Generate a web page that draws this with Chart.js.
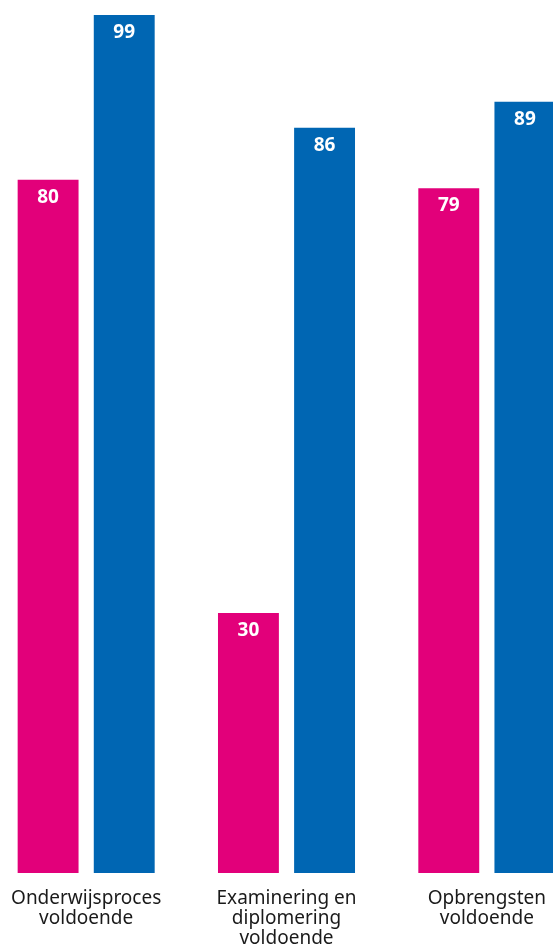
<!DOCTYPE html>
<html>
<head>
<meta charset="utf-8">
<script src="https://cdn.jsdelivr.net/npm/chart.js@4/dist/chart.umd.min.js"></script>
<style>
  html, body { margin: 0; padding: 0; background: #fff; overflow: hidden; width: 553px; height: 944px; }
  #wrap { position: absolute; left: -14px; top: 0; width: 601px; height: 944px; }
</style>
</head>
<body>
<div id="wrap"><canvas id="c" width="601" height="944"></canvas></div>
<script>
const categories = [
  ["Onderwijsproces", "voldoende"],
  ["Examinering en", "diplomering", "voldoende"],
  ["Opbrengsten", "voldoende"]
];
const seriesA = [80, 30, 79];
const seriesB = [99, 86, 89];
const seriesNames = ["Reeks 1", "Reeks 2"];

const valueLabels = {
  id: 'valueLabels',
  afterDatasetsDraw(chart) {
    const ctx = chart.ctx;
    ctx.save();
    ctx.fillStyle = '#ffffff';
    ctx.font = 'bold 19px "Noto Sans", "Open Sans", sans-serif';
    ctx.textAlign = 'center';
    ctx.textBaseline = 'alphabetic';
    chart.data.datasets.forEach((ds, i) => {
      chart.getDatasetMeta(i).data.forEach((bar, j) => {
        ctx.fillText(String(ds.data[j]), bar.x, bar.y + 23);
      });
    });
    ctx.restore();
  }
};

new Chart(document.getElementById('c'), {
  type: 'bar',
  data: {
    labels: categories,
    datasets: [
      { label: seriesNames[0], data: seriesA, backgroundColor: '#E2007A' },
      { label: seriesNames[1], data: seriesB, backgroundColor: '#0066B3' }
    ]
  },
  options: {
    responsive: false,
    animation: false,
    devicePixelRatio: 1,
    categoryPercentage: 0.76,
    barPercentage: 0.80,
    layout: { padding: { top: 15, bottom: 0, left: 0, right: 0 } },
    plugins: { legend: { display: false }, tooltip: { enabled: false } },
    scales: {
      x: {
        grid: { display: false },
        border: { display: false },
        ticks: {
          color: '#1a1a1a',
          font: { family: '"Noto Sans", "Open Sans", sans-serif', size: 19, lineHeight: '20px' },
          padding: 8,
          maxRotation: 0,
          autoSkip: false
        },
        afterFit(scale) { scale.height = 71; }
      },
      y: {
        display: false,
        min: 0,
        max: 99
      }
    }
  },
  plugins: [valueLabels]
});
</script>
</body>
</html>
